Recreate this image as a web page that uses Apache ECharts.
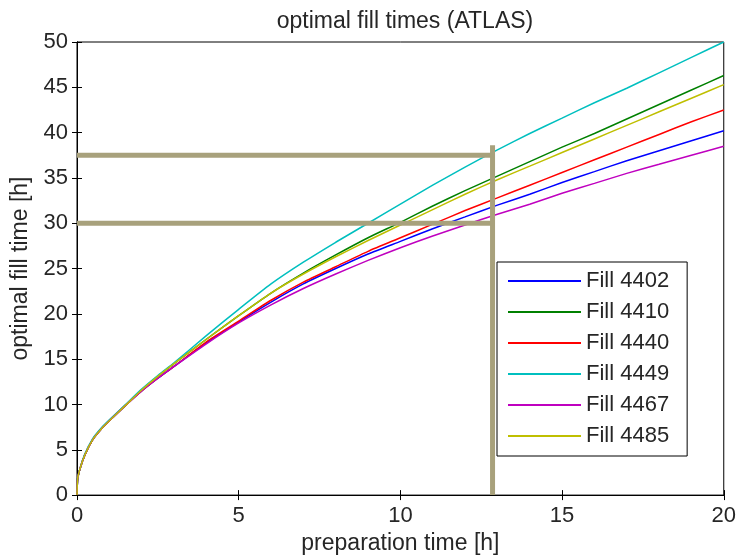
<!DOCTYPE html>
<html>
<head>
<meta charset="utf-8">
<script src="https://cdn.jsdelivr.net/npm/echarts@6/dist/echarts.min.js"></script>
<style>html,body{margin:0;padding:0;background:#fff}#c{width:739px;height:560px}</style>
</head>
<body>
<div id="c"></div>
<script>
const xs = [0, 0.02, 0.1, 0.25, 0.5, 0.75, 1, 1.5, 2, 2.5, 3, 4, 5, 6, 7, 8, 9, 10, 11, 12, 13, 14, 15, 16, 17, 18, 19, 20];
const fill4402 = [0, 1.8, 3.0, 4.5, 6.2, 7.3, 8.2, 9.9, 11.5, 12.9, 14.2, 16.8, 19.1, 21.3, 23.3, 25.0, 26.6, 28.0, 29.4, 30.7, 32.0, 33.2, 34.5, 35.7, 36.9, 38.0, 39.1, 40.2];
const fill4410 = [0, 1.8, 3.0, 4.5, 6.2, 7.3, 8.2, 9.9, 11.6, 13.1, 14.5, 17.2, 19.8, 22.3, 24.5, 26.5, 28.4, 30.1, 31.9, 33.6, 35.2, 36.8, 38.4, 39.9, 41.5, 43.1, 44.7, 46.3];
const fill4440 = [0, 1.8, 3.0, 4.5, 6.2, 7.3, 8.2, 9.9, 11.5, 12.9, 14.2, 16.9, 19.2, 21.5, 23.5, 25.2, 26.9, 28.4, 29.9, 31.4, 32.8, 34.2, 35.6, 37.0, 38.4, 39.8, 41.2, 42.5];
const fill4449 = [0, 1.8, 3.0, 4.6, 6.3, 7.4, 8.3, 10.0, 11.7, 13.2, 14.6, 17.6, 20.5, 23.3, 25.7, 27.9, 30.0, 32.1, 34.2, 36.2, 38.1, 39.9, 41.6, 43.3, 44.9, 46.6, 48.3, 50.0];
const fill4467 = [0, 1.8, 3.0, 4.5, 6.2, 7.3, 8.2, 9.9, 11.5, 12.9, 14.2, 16.7, 19.0, 21.0, 22.8, 24.4, 25.9, 27.3, 28.6, 29.8, 31.0, 32.1, 33.3, 34.4, 35.5, 36.5, 37.5, 38.5];
const fill4485 = [0, 1.8, 3.0, 4.5, 6.2, 7.3, 8.2, 9.9, 11.6, 13.1, 14.5, 17.2, 19.8, 22.3, 24.4, 26.3, 28.1, 29.8, 31.5, 33.2, 34.8, 36.3, 37.8, 39.3, 40.8, 42.3, 43.8, 45.3];
const seriesNames = ['Fill 4402', 'Fill 4410', 'Fill 4440', 'Fill 4449', 'Fill 4467', 'Fill 4485'];
const seriesColors = ['#0000ff', '#008000', '#ff0000', '#00bfbf', '#bf00bf', '#bfbf00'];
const xTicks = [0, 5, 10, 15, 20];
const yTicks = [0, 5, 10, 15, 20, 25, 30, 35, 40, 45, 50];
const refLevels = [37.5, 30];
const refPrep = 12.85;
const refTop = 38.6;

const allData = [fill4402, fill4410, fill4440, fill4449, fill4467, fill4485];
const font = 'Liberation Sans, Arial, Helvetica, sans-serif';
const txt = '#262626';
const fs = 22;

const series = allData.map((d, i) => ({
  name: seriesNames[i], type: 'line', symbol: 'none', smooth: 0.2,
  data: xs.map((x, j) => [x, d[j]]),
  lineStyle: { color: seriesColors[i], width: 1.5 },
  itemStyle: { color: seriesColors[i] },
  z: 3
}));
const tan = '#a8a17c';
refLevels.forEach(v => series.push({
  type: 'line', symbol: 'none', silent: true, z: 4,
  data: [[0, v], [refPrep, v]],
  lineStyle: { color: tan, width: 5, cap: 'butt' }
}));
series.push({
  type: 'line', symbol: 'none', silent: true, z: 4,
  data: [[refPrep, 0], [refPrep, refTop]],
  lineStyle: { color: tan, width: 5, cap: 'butt' }
});

const chart = echarts.init(document.getElementById('c'));
chart.setOption({
  animation: false,
  backgroundColor: '#fff',
  title: {
    text: 'optimal fill times (ATLAS)', left: 400, top: 5, textAlign: 'center',
    textStyle: { fontFamily: font, fontSize: 23, fontWeight: 'normal', color: txt }
  },
  grid: { left: 77, right: 12, top: 42, bottom: 64, show: true, borderColor: '#000', borderWidth: 1, backgroundColor: 'transparent' },
  legend: {
    data: seriesNames, orient: 'vertical', left: 497, top: 262,
    backgroundColor: '#fff', borderColor: '#000', borderWidth: 1,
    padding: [8, 18, 9, 11], itemWidth: 73, itemHeight: 2, itemGap: 9,
    icon: 'rect',
    textStyle: { fontFamily: font, fontSize: fs, color: txt },
    z: 10
  },
  xAxis: [{
    type: 'value', min: 0, max: 20, interval: 5,
    name: 'preparation time [h]', nameLocation: 'middle', nameGap: 35,
    nameTextStyle: { fontFamily: font, fontSize: 23, color: txt },
    axisLine: { show: true, lineStyle: { color: '#000' } },
    axisTick: { show: true, inside: true, length: 5, lineStyle: { color: '#000' } },
    axisLabel: { fontFamily: font, fontSize: fs, color: txt, margin: 10, formatter: v => xTicks.includes(v) ? String(v) : '' },
    splitLine: { show: false }
  }, {
    type: 'value', min: 0, max: 20, interval: 5, position: 'top',
    axisLine: { show: true, lineStyle: { color: '#000' } },
    axisTick: { show: true, inside: true, length: 5, lineStyle: { color: '#000' } },
    axisLabel: { show: false }, splitLine: { show: false }
  }],
  yAxis: [{
    type: 'value', min: 0, max: 50, interval: 5,
    name: 'optimal fill time [h]', nameLocation: 'middle', nameGap: 44,
    nameTextStyle: { fontFamily: font, fontSize: 23, color: txt },
    axisLine: { show: true, lineStyle: { color: '#000' } },
    axisTick: { show: true, inside: true, length: 5, lineStyle: { color: '#000' } },
    axisLabel: { fontFamily: font, fontSize: fs, color: txt, margin: 9, formatter: v => yTicks.includes(v) ? String(v) : '' },
    splitLine: { show: false }
  }, {
    type: 'value', min: 0, max: 50, interval: 5, position: 'right',
    axisLine: { show: true, lineStyle: { color: '#000' } },
    axisTick: { show: true, inside: true, length: 5, lineStyle: { color: '#000' } },
    axisLabel: { show: false }, splitLine: { show: false }
  }],
  series: series
});
</script>
</body>
</html>
